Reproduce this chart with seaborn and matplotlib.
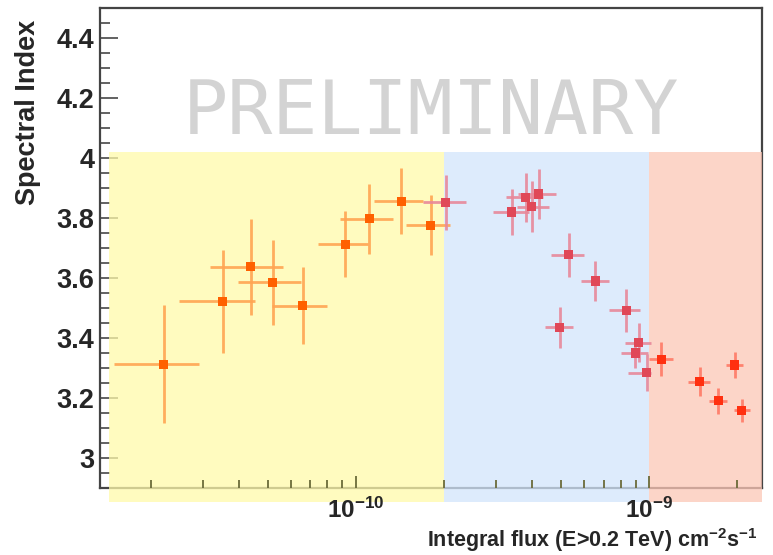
import numpy as np
import pandas as pd
import matplotlib
matplotlib.use("Agg")
import matplotlib.pyplot as plt
import seaborn as sns
from matplotlib.patches import Rectangle
from matplotlib.ticker import FixedLocator, NullFormatter, LogLocator

# Integral flux (E>0.2 TeV) in cm^-2 s^-1 with asymmetric bin extents
flux = [2.21e-11, 3.52e-11, 4.38e-11, 5.21e-11, 6.60e-11, 9.20e-11, 1.11e-10, 1.43e-10, 1.80e-10,
        2.03e-10, 3.40e-10, 3.80e-10, 3.98e-10, 4.20e-10, 5.32e-10, 6.56e-10, 4.97e-10, 8.35e-10,
        9.24e-10, 8.97e-10, 9.82e-10,
        1.10e-9, 1.49e-9, 1.72e-9, 1.96e-9, 2.07e-9]
flux_lo = [1.49e-11, 2.49e-11, 3.18e-11, 3.95e-11, 5.17e-11, 7.43e-11, 8.80e-11, 1.15e-10, 1.48e-10,
           1.69e-10, 2.93e-10, 3.25e-10, 3.56e-10, 3.57e-10, 4.62e-10, 5.85e-10, 4.41e-10, 7.33e-10,
           8.26e-10, 8.05e-10, 8.47e-10,
           9.97e-10, 1.36e-9, 1.60e-9, 1.83e-9, 1.95e-9]
flux_hi = [2.91e-11, 4.53e-11, 5.62e-11, 6.48e-11, 8.00e-11, 1.10e-10, 1.34e-10, 1.70e-10, 2.10e-10,
           2.37e-10, 3.89e-10, 4.35e-10, 4.57e-10, 4.82e-10, 5.98e-10, 7.28e-10, 5.52e-10, 9.33e-10,
           1.02e-9, 9.89e-10, 1.02e-9,
           1.21e-9, 1.61e-9, 1.84e-9, 2.10e-9, 2.22e-9]
index = [3.313, 3.523, 3.637, 3.586, 3.508, 3.712, 3.798, 3.856, 3.776,
         3.853, 3.820, 3.869, 3.838, 3.880, 3.678, 3.590, 3.436, 3.492,
         3.384, 3.350, 3.284,
         3.329, 3.254, 3.191, 3.310, 3.159]
index_err = [0.197, 0.172, 0.161, 0.141, 0.128, 0.110, 0.117, 0.110, 0.100,
             0.092, 0.078, 0.081, 0.085, 0.084, 0.073, 0.067, 0.068, 0.072,
             0.065, 0.050, 0.062,
             0.057, 0.048, 0.044, 0.042, 0.039]
state = ["low"] * 9 + ["mid"] * 12 + ["high"] * 5

# Flux state bands: (lower, upper) edges
band_edges = [(1.44e-11, 2.0e-10), (2.0e-10, 1.0e-9), (1.0e-9, 2.43e-9)]
band_colors = ["#fffaaa", "#d2e5fb", "#fcc7b6"]

x_major = [1e-10, 1e-9]
x_labels = [r"$\mathdefault{10^{-10}}$", r"$\mathdefault{10^{-9}}$"]
y_major = [3.0, 3.2, 3.4, 3.6, 3.8, 4.0, 4.2, 4.4]
y_labels = ["3", "3.2", "3.4", "3.6", "3.8", "4", "4.2", "4.4"]

marker_colors = {"low": "#ff6000", "mid": "#e04858", "high": "#ff3010"}
bar_colors = {"low": "#ffa552", "mid": "#e8889a", "high": "#ff7a66"}

df = pd.DataFrame({"flux": flux, "lo": flux_lo, "hi": flux_hi,
                   "index": index, "err": index_err, "state": state})

sns.set_theme(style="white")
plt.rcParams["font.family"] = ["Liberation Sans", "DejaVu Sans"]
plt.rcParams["mathtext.fontset"] = "custom"
plt.rcParams["mathtext.rm"] = "Liberation Sans:bold"
plt.rcParams["mathtext.it"] = "Liberation Sans:bold"
plt.rcParams["mathtext.bf"] = "Liberation Sans:bold"

fig = plt.figure(figsize=(7.73, 5.55), dpi=100)
ax = fig.add_axes([100 / 773, 67 / 555, 662 / 773, 480 / 555])
ax.set_xscale("log")
ax.set_xlim(1.34e-11, 2.43e-9)
ax.set_ylim(2.9, 4.5)

# shaded flux-state bands, extending slightly below the frame
for (x0, x1), c in zip(band_edges, band_colors):
    ax.add_patch(Rectangle((x0, 2.853), x1 - x0, 4.02 - 2.853, transform=ax.transData,
                           facecolor=c, edgecolor="none", alpha=0.75, zorder=3, clip_on=False))

for st in ["low", "mid", "high"]:
    d = df[df["state"] == st]
    ax.errorbar(d["flux"], d["index"],
                xerr=[d["flux"] - d["lo"], d["hi"] - d["flux"]], yerr=d["err"],
                fmt="none", ecolor=bar_colors[st], elinewidth=2.0, capsize=0, alpha=0.9, zorder=4)

sns.scatterplot(data=df, x="flux", y="index", hue="state", palette=marker_colors,
                marker="s", s=42, edgecolor="none", legend=False, ax=ax, zorder=5)

ax.set_xlabel("")
ax.set_ylabel("")

# ticks drawn inside the frame
ax.yaxis.set_major_locator(FixedLocator(y_major))
ax.yaxis.set_minor_locator(FixedLocator(np.arange(2.9, 4.51, 0.05)))
ax.set_yticklabels(y_labels)
ax.xaxis.set_major_locator(FixedLocator(x_major))
ax.set_xticklabels(x_labels)
ax.xaxis.set_minor_locator(LogLocator(base=10, subs=np.arange(2, 10)))
ax.xaxis.set_minor_formatter(NullFormatter())
ax.tick_params(axis="y", which="major", direction="in", length=13, width=1.3,
               color="#555555", labelsize=19.5, pad=4, left=True, right=False)
ax.tick_params(axis="y", which="minor", direction="in", length=7, width=1.3,
               color="#555555", left=True, right=False)
ax.tick_params(axis="x", which="major", direction="in", length=9, width=1.3,
               color="#6b6b3a", labelsize=17.5, pad=7, bottom=True, top=False)
ax.tick_params(axis="x", which="minor", direction="in", length=6, width=1.3,
               color="#6b6b3a", bottom=True, top=False)
for lab in ax.get_yticklabels() + ax.get_xticklabels():
    lab.set_fontweight("bold")
# keep the flux tick labels above the shaded bands
ax.xaxis.set_zorder(3.5)

for sp in ax.spines.values():
    sp.set_color("#444444")
    sp.set_linewidth(1.6)
    sp.set_visible(True)

fig.text(28 / 773, 1 - 112 / 555, "Spectral Index", rotation=90, ha="center", va="center",
         fontsize=19.5, fontweight="bold")
fig.text(757 / 773, 1 - 547 / 555, r"Integral flux (E>0.2 TeV) cm$^{-2}$s$^{-1}$",
         ha="right", va="baseline", fontsize=15.5, fontweight="bold")

fig.text(183 / 773, 1 - 134 / 555, "PRELIMINARY", family="DejaVu Sans Mono",
         fontsize=54, color="#d3d3d3", ha="left", va="baseline")

fig.savefig("out.png", dpi=100)
